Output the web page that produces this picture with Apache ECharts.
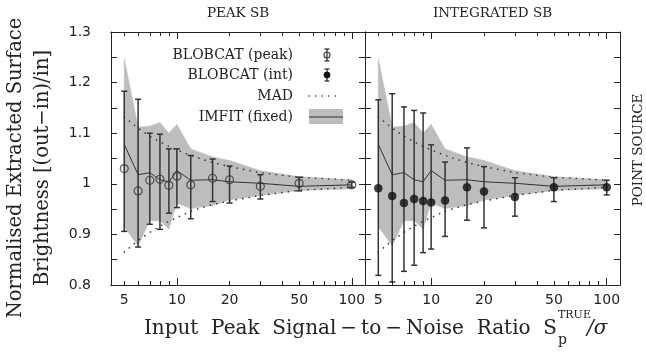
<!DOCTYPE html>
<html><head><meta charset="utf-8">
<script src="https://cdn.jsdelivr.net/npm/echarts@6/dist/echarts.min.js"></script>
<style>html,body{margin:0;padding:0;background:#fff}#c{width:646px;height:355px}</style>
</head><body><div id="c"></div>
<script>
// ---- data ----
const snr = [5, 6, 7, 8, 9, 10, 12, 16, 20, 30, 50, 100];
// BLOBCAT (peak) — left panel
const peakVal = [1.030, 0.986, 1.007, 1.009, 0.997, 1.015, 0.998, 1.011, 1.008, 0.995, 1.001, 0.998];
const peakHi  = [1.183, 1.167, 1.100, 1.098, 1.069, 1.069, 1.056, 1.049, 1.035, 1.018, 1.013, 1.003];
const peakLo  = [0.906, 0.875, 0.920, 0.910, 0.942, 0.953, 0.931, 0.965, 0.962, 0.970, 0.986, 0.993];
// BLOBCAT (int) — right panel
const intVal = [0.991, 0.976, 0.962, 0.970, 0.966, 0.963, 0.967, 0.993, 0.985, 0.974, 0.993, 0.993];
const intHi  = [1.166, 1.178, 1.152, 1.145, 1.140, 1.077, 1.043, 1.071, 1.034, 1.012, 1.012, 1.007];
const intLo  = [0.819, 0.806, 0.827, 0.839, 0.864, 0.871, 0.896, 0.928, 0.913, 0.936, 0.965, 0.978];
// IMFIT (fixed): line + shaded range
const imfitMid = [1.078, 1.018, 1.022, 1.008, 1.004, 1.026, 1.007, 1.008, 1.004, 1.001, 0.995, 0.998];
const imfitHi  = [1.247, 1.112, 1.114, 1.121, 1.100, 1.117, 1.069, 1.053, 1.046, 1.026, 1.014, 1.008];
const imfitLo  = [0.915, 0.878, 0.927, 0.927, 0.911, 0.962, 0.951, 0.957, 0.968, 0.977, 0.987, 0.990];
// MAD envelope
const madHi = [1.132, 1.110, 1.094, 1.083, 1.074, 1.067, 1.056, 1.042, 1.034, 1.022, 1.013, 1.007];
const madLo = [0.865, 0.888, 0.904, 0.916, 0.926, 0.933, 0.946, 0.959, 0.966, 0.977, 0.987, 0.993];
// axis ticks
const xTickLabels = [5, 10, 20, 50, 100];
const xMajorTicks = [10, 100];
const xMinorTicks = [5, 6, 7, 8, 9, 20, 30, 40, 50, 60, 70, 80, 90];
const yMin = 0.8, yMax = 1.3, yTickStep = 0.05;
const panelTitles = ['PEAK SB', 'INTEGRATED SB'];

// ---- chart ----
const INK = '#222';
const BAND = '#bdbdbf';
const XMIN = 4.2, XMAX = 119;
const SERIF = 'DejaVu Serif';
const SANS = 'DejaVu Sans';

function pairs(ys) { return snr.map((x, i) => [x, ys[i]]); }

function xAxesFor(g) {
  const base = {
    type: 'log', logBase: 10, gridIndex: g, min: XMIN, max: XMAX,
    splitLine: { show: false }, minorTick: { show: false },
    axisLine: { show: true, onZero: false, lineStyle: { color: INK, width: 1 } }
  };
  const mk = (pos, ticks, len, labels) => Object.assign({}, base, {
    position: pos,
    axisTick: { show: true, inside: true, length: len, customValues: ticks, lineStyle: { color: INK, width: 1 } },
    axisLabel: labels ? {
      show: true, customValues: xTickLabels, margin: 8, fontSize: 14, fontFamily: SANS, color: INK,
      formatter: v => String(Math.round(v))
    } : { show: false }
  });
  return [
    mk('bottom', xMajorTicks, 7, true),
    mk('bottom', xMinorTicks, 4, false),
    mk('top', xMajorTicks, 7, false),
    mk('top', xMinorTicks, 4, false)
  ];
}
function yAxisFor(g, pos, labels) {
  return {
    type: 'value', gridIndex: g, position: pos, min: yMin, max: yMax, interval: yTickStep,
    splitLine: { show: false },
    axisLine: { show: true, onZero: false, lineStyle: { color: INK, width: 1 } },
    axisTick: { show: true, inside: true, length: 6, lineStyle: { color: INK, width: 1 } },
    axisLabel: labels ? {
      show: true, margin: 20, fontSize: 14, fontFamily: SANS, color: INK,
      formatter: v => {
        const r = Math.round(v * 100);
        if (r % 10 !== 0) return '';
        return r === 100 ? '1' : (r / 100).toFixed(1);
      }
    } : { show: false }
  };
}

function errRender(color) {
  return function (params, api) {
    const x = api.value(0), lo = api.value(1), hi = api.value(2);
    const a = api.coord([x, hi]), b = api.coord([x, lo]);
    const w = 3;
    const st = { stroke: color, lineWidth: 1.5 };
    return {
      type: 'group', children: [
        { type: 'line', shape: { x1: a[0], y1: a[1], x2: b[0], y2: b[1] }, style: st },
        { type: 'line', shape: { x1: a[0] - w, y1: a[1], x2: a[0] + w, y2: a[1] }, style: st },
        { type: 'line', shape: { x1: b[0] - w, y1: b[1], x2: b[0] + w, y2: b[1] }, style: st }
      ]
    };
  };
}
// band drawn segment by segment (each item = two consecutive points)
function bandRender(params, api) {
  const p = [
    api.coord([api.value(0), api.value(1)]),
    api.coord([api.value(0), api.value(2)]),
    api.coord([api.value(3), api.value(5)]),
    api.coord([api.value(3), api.value(4)])
  ];
  return { type: 'polygon', shape: { points: p }, style: { fill: BAND, stroke: BAND, lineWidth: 0.6 } };
}
const bandData = snr.slice(0, -1).map((x, i) => [x, imfitLo[i], imfitHi[i], snr[i + 1], imfitLo[i + 1], imfitHi[i + 1]]);

function panelSeries(xi, yi, vals, his, los, filled) {
  const common = { xAxisIndex: xi, yAxisIndex: yi, animation: false, silent: true };
  return [
    Object.assign({}, common, {
      type: 'custom', renderItem: bandRender, z: 1,
      encode: { x: [0, 3], y: [1, 2, 4, 5] }, data: bandData
    }),
    Object.assign({}, common, {
      type: 'line', data: pairs(madHi), symbol: 'none', z: 2,
      lineStyle: { color: '#333', width: 1.6, type: [0.1, 6.5], cap: 'round' }
    }),
    Object.assign({}, common, {
      type: 'line', data: pairs(madLo), symbol: 'none', z: 2,
      lineStyle: { color: '#333', width: 1.6, type: [0.1, 6.5], cap: 'round' }
    }),
    Object.assign({}, common, {
      type: 'line', data: pairs(imfitMid), symbol: 'none', z: 3,
      lineStyle: { color: '#333', width: 1 }
    }),
    Object.assign({}, common, {
      type: 'custom', renderItem: errRender('#333'), z: 4,
      encode: { x: 0, y: [1, 2] },
      data: snr.map((x, i) => [x, los[i], his[i]])
    }),
    Object.assign({}, common, {
      type: 'scatter', data: pairs(vals), symbol: 'circle', symbolSize: 8, z: 5,
      itemStyle: filled ? { color: '#111', borderColor: '#111', borderWidth: 0.5 }
                        : { color: 'rgba(0,0,0,0)', borderColor: '#333', borderWidth: 1.2 }
    })
  ];
}

// legend drawn as graphics
const LX = 293, SX = 327;
const rows = [55, 75, 96, 117];
const legendTxt = ['BLOBCAT (peak)', 'BLOBCAT (int)', 'MAD', 'IMFIT (fixed)'];
function errIcon(cy, filled) {
  const st = { stroke: '#333', lineWidth: 1.3 };
  return [
    { type: 'line', z: 20, shape: { x1: SX, y1: cy - 6, x2: SX, y2: cy + 6 }, style: st },
    { type: 'line', z: 20, shape: { x1: SX - 2.5, y1: cy - 6, x2: SX + 2.5, y2: cy - 6 }, style: st },
    { type: 'line', z: 20, shape: { x1: SX - 2.5, y1: cy + 6, x2: SX + 2.5, y2: cy + 6 }, style: st },
    { type: 'circle', z: 20, shape: { cx: SX, cy: cy, r: 3 },
      style: filled ? { fill: '#111', stroke: '#111' } : { fill: 'rgba(0,0,0,0)', stroke: '#333', lineWidth: 1.1 } }
  ];
}
const graphics = [];
legendTxt.forEach((t, i) => graphics.push({
  type: 'text', x: LX, y: rows[i], z: 20,
  style: { text: t, font: '14px "' + SERIF + '"', fill: INK, textAlign: 'right', textVerticalAlign: 'middle' }
}));
graphics.push(...errIcon(rows[0], false), ...errIcon(rows[1], true));
graphics.push({ type: 'line', z: 20, shape: { x1: 309, y1: rows[2], x2: 341, y2: rows[2] },
  style: { stroke: '#333', lineWidth: 1.6, lineDash: [0.1, 6.5], lineCap: 'round' } });
graphics.push({ type: 'rect', z: 20, shape: { x: 309, y: rows[3] - 8, width: 34, height: 15 }, style: { fill: BAND } });
graphics.push({ type: 'line', z: 21, shape: { x1: 309, y1: rows[3], x2: 343, y2: rows[3] }, style: { stroke: '#333', lineWidth: 1 } });
// panel titles
graphics.push({ type: 'text', x: 238, y: 13, style: { text: panelTitles[0], font: '13.5px "' + SERIF + '"', fill: INK, textAlign: 'center', textVerticalAlign: 'middle' } });
graphics.push({ type: 'text', x: 492.5, y: 13, style: { text: panelTitles[1], font: '13.5px "' + SERIF + '"', fill: INK, textAlign: 'center', textVerticalAlign: 'middle' } });
// right-side label
graphics.push({ type: 'text', x: 638, y: 150, rotation: Math.PI / 2, style: { text: 'POINT SOURCE', font: '13.5px "' + SERIF + '"', fill: INK, textAlign: 'center', textVerticalAlign: 'middle' } });
// y title
graphics.push({ type: 'text', x: 29, y: 168, rotation: Math.PI / 2, style: {
  text: 'Normalised Extracted Surface\nBrightness [(out\u2212in)/in]', font: '19.5px "' + SERIF + '"',
  lineHeight: 27, fill: INK, textAlign: 'center', textVerticalAlign: 'middle' } });
// x title
graphics.push({ type: 'text', x: 557, y: 329, style: { text: 'Input  Peak  Signal\u2009\u2212\u2009to\u2009\u2212\u2009Noise  Ratio  S', font: '20px "' + SERIF + '"', fill: INK, textAlign: 'right', textVerticalAlign: 'middle' } });
graphics.push({ type: 'text', x: 558, y: 315, style: { text: 'TRUE', font: '11px "' + SERIF + '"', fill: INK, textAlign: 'left', textVerticalAlign: 'middle' } });
graphics.push({ type: 'text', x: 558, y: 340, style: { text: 'p', font: '14px "' + SERIF + '"', fill: INK, textAlign: 'left', textVerticalAlign: 'middle' } });
graphics.push({ type: 'text', x: 587, y: 329, style: { text: '/\u03c3', font: 'italic 20px "' + SERIF + '"', fill: INK, textAlign: 'left', textVerticalAlign: 'middle' } });

const option = {
  animation: false,
  backgroundColor: '#fff',
  grid: [
    { left: 111, top: 32, width: 254, height: 253, containLabel: false },
    { left: 365, top: 32, width: 255, height: 253, containLabel: false }
  ],
  xAxis: [...xAxesFor(0), ...xAxesFor(1)],
  yAxis: [yAxisFor(0, 'left', true), yAxisFor(0, 'right', false), yAxisFor(1, 'left', false), yAxisFor(1, 'right', false)],
  series: [
    ...panelSeries(0, 0, peakVal, peakHi, peakLo, false),
    ...panelSeries(4, 2, intVal, intHi, intLo, true)
  ],
  graphic: graphics
};
const chart = echarts.init(document.getElementById('c'));
chart.setOption(option);
</script>
</body></html>
